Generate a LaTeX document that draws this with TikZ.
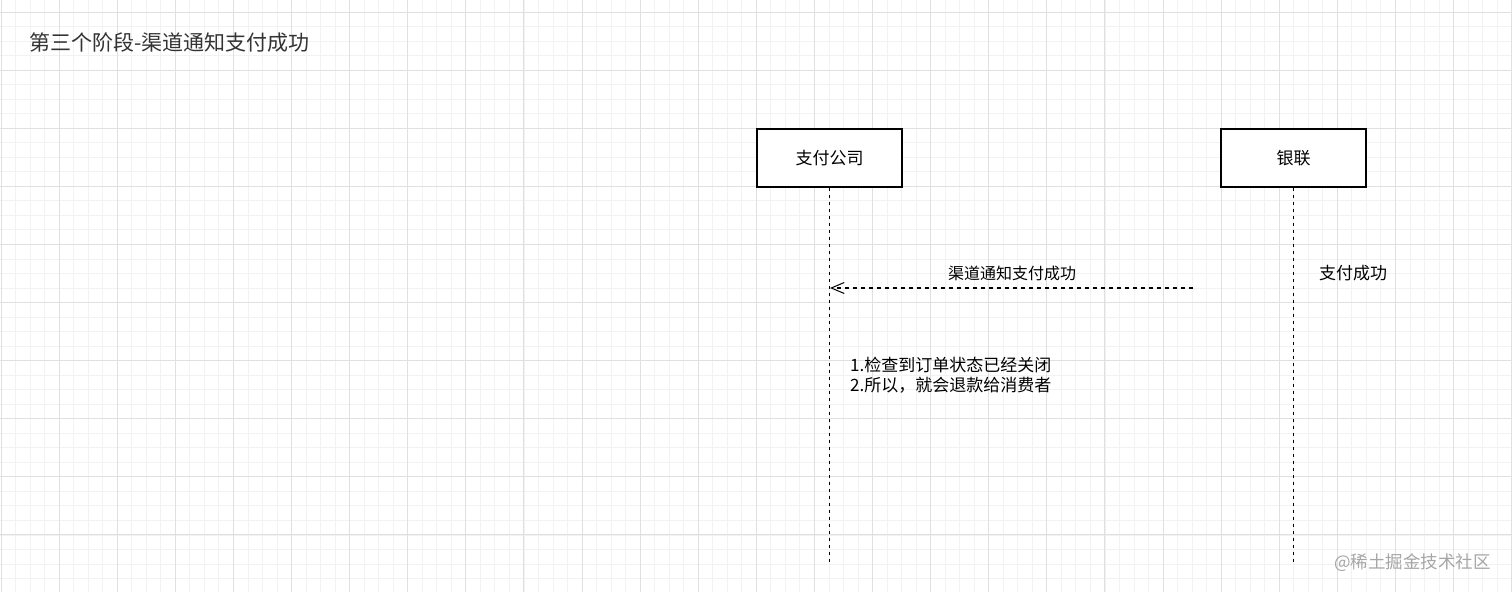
\documentclass[tikz,border=0pt]{standalone}
\usepackage{fontspec}
\setmainfont{Noto Sans CJK SC}
\usepackage{xcolor}
\usetikzlibrary{arrows.meta}
\definecolor{gridlo}{HTML}{F2F2F2}
\definecolor{gridhi}{HTML}{E0E0E0}
\definecolor{titlegray}{HTML}{333333}
\definecolor{markgray}{HTML}{A6A6A6}

\begin{document}
\begin{tikzpicture}[x=1pt, y=-1pt, >={Straight Barb[length=13pt,width=11pt,line width=1pt]},
    actor/.style={draw=black, line width=1.5pt, fill=white, minimum width=145pt, minimum height=58pt, font=\fontsize{17}{20}\selectfont},
    lifeline/.style={line width=1.3pt, dash pattern=on 3.5pt off 3.5pt},
    msg/.style={line width=1.1pt, dash pattern=on 4pt off 4pt}]
    \useasboundingbox (0,0) rectangle (1512,592);
    \fill[white] (0,0) rectangle (1512,592);
    % grid
    \foreach \i in {0,...,104} \draw[gridlo, line width=0.8pt] ({1+\i*14.525},0) -- ({1+\i*14.525},592);
    \foreach \i in {0,...,40} \draw[gridlo, line width=0.8pt] (0,{12+\i*14.525}) -- (1512,{12+\i*14.525});
    \foreach \i in {0,...,26} \draw[gridhi, line width=1pt] ({1+\i*58.1},0) -- ({1+\i*58.1},592);
    \foreach \i in {0,...,10} \draw[gridhi, line width=1pt] (0,{12+\i*58.1}) -- (1512,{12+\i*58.1});
    % title
    \node[anchor=west, text=titlegray, font=\fontsize{21}{24}\selectfont] (title) at (26,43) {第三个阶段-渠道通知支付成功};
    % actors
    \node[actor] (pay) at (829.5,158) {支付公司};
    \node[actor] (union) at (1293.5,158) {银联};
    \coordinate (payend) at (829.5,564);
    \coordinate (unionend) at (1293.5,564);
    \draw[lifeline] (pay.south) -- (payend);
    \draw[lifeline] (union.south) -- (unionend);
    % message
    \coordinate (msgtail) at (1193,288);
    \coordinate (msgtip) at (830,288);
    \draw[msg,->] (msgtail) -- (msgtip);
    \node[font=\fontsize{16}{19}\selectfont] (msgtext) at (1012,273) {渠道通知支付成功};
    \node[font=\fontsize{17}{20}\selectfont] (unionnote) at (1353,273) {支付成功};
    % note
    \node[anchor=north west, align=left, inner sep=0pt, font=\fontsize{17}{20}\selectfont] (paynote) at (850,357) {1.检查到订单状态已经关闭\\2.所以，就会退款给消费者};
    % watermark
    \node[anchor=west, inner sep=0pt, text=markgray, font=\fontsize{17.5}{20}\selectfont] (mark) at (1334,563) {@稀土掘金技术社区};
\end{tikzpicture}
\end{document}
